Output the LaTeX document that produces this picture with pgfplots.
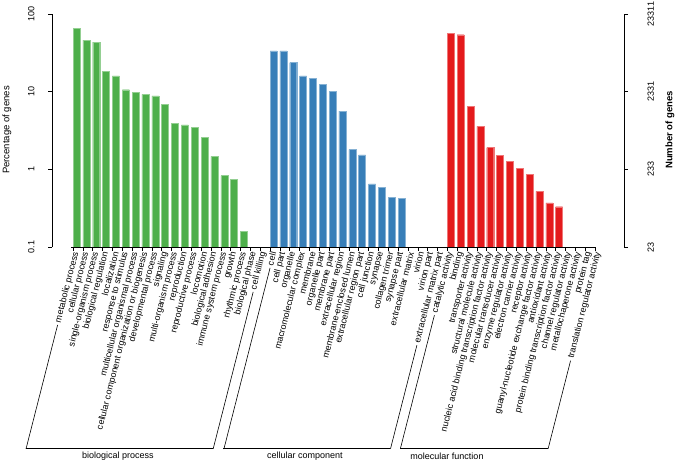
\documentclass[border=0pt]{standalone}
\usepackage{fontspec}
\setmainfont{Liberation Sans}
\usepackage{pgfplots}
\pgfplotsset{compat=1.18}
\definecolor{bpgreen}{HTML}{4DAF4A}
\definecolor{ccblue}{HTML}{377EB8}
\definecolor{mfred}{HTML}{E41A1C}
% label of the first/last category of a group, led by the bracket line
\newcommand{\brk}[1]{\makebox[203pt][r]{\leaders\hrule height 2.7pt depth -2.1pt\hfill\hspace{2.5pt}#1}}
\newcommand{\lab}{\fontsize{9}{10}\selectfont}
\begin{document}
\begin{tikzpicture}[x=1pt,y=1pt]
\useasboundingbox (0,0) rectangle (685,464);
\begin{axis}[
    at={(52pt,217pt)}, anchor=south west,
    scale only axis, width=572pt, height=233pt,
    ymode=log, log origin=infty,
    xmin=-2.49, xmax=55.58, ymin=0.1, ymax=100,
    axis y line*=left, axis x line*=bottom,
    x axis line style={draw=none},
    y axis line style={line width=0.8pt},
    tick align=outside,
    major tick length=4pt, minor tick length=4pt,
    yminorticks=false,
    ytick={0.1,1,10,100}, yticklabels={0.1,1,10,100},
    yticklabel style={rotate=90, anchor=south, font=\lab},
    yticklabel shift=10pt,
    y tick style={line width=0.8pt, black},
    xtick={0,...,53},
    minor xtick={-0.35,0.65,...,52.7},
    major x tick style={draw=none},
    minor x tick style={black, line width=0.6pt},
    xticklabel style={rotate=75.7, anchor=east, font=\lab, inner sep=1pt},
    xticklabels={
      \brk{metabolic process}, cellular process, single-organism process,
      biological regulation, localization, response to stimulus,
      multicellular organismal process,
      cellular component organization or biogenesis,
      developmental process, signaling, multi-organism process,
      reproduction, reproductive process, locomotion, biological adhesion,
      immune system process, growth, rhythmic process, biological phase,
      \brk{cell killing},
      \brk{cell}, cell part, organelle, macromolecular complex, membrane,
      organelle part, membrane part, extracellular region,
      membrane-enclosed lumen, extracellular region part, cell junction,
      synapse, collagen trimer, synapse part, extracellular matrix,
      virion, virion part, \brk{extracellular matrix part},
      \brk{catalytic activity}, binding, transporter activity,
      structural molecule activity,
      nucleic acid binding transcription factor activity,
      molecular transducer activity, enzyme regulator activity,
      electron carrier activity, receptor activity,
      guanyl-nucleotide exchange factor activity, antioxidant activity,
      protein binding transcription factor activity,
      channel regulator activity, metallochaperone activity,
      protein tag, \brk{translation regulator activity}},
    clip=false,
]
% biological process
\addplot[ybar, bar width=7pt, bar shift=0pt, fill=bpgreen, draw=bpgreen!60!white, line width=0.4pt] coordinates {
    (0,64.7) (1,46.2) (2,43.5) (3,18.4) (4,16.0) (5,10.6) (6,9.8)
    (7,9.2) (8,8.8) (9,6.8) (10,3.9) (11,3.73) (12,3.5) (13,2.6)
    (14,1.47) (15,0.83) (16,0.74) (17,0.16)
};
% cellular component
\addplot[ybar, bar width=7pt, bar shift=0pt, fill=ccblue, draw=ccblue!60!white, line width=0.4pt] coordinates {
    (20,33.6) (21,33.6) (22,23.7) (23,16.0) (24,14.9) (25,12.5)
    (26,10.2) (27,5.6) (28,1.8) (29,1.53) (30,0.65) (31,0.59)
    (32,0.44) (33,0.42)
};
% molecular function
\addplot[ybar, bar width=7pt, bar shift=0pt, fill=mfred, draw=mfred!60!white, line width=0.4pt] coordinates {
    (38,56.9) (39,54.1) (40,6.5) (41,3.57) (42,1.91) (43,1.52)
    (44,1.27) (45,1.02) (46,0.865) (47,0.52) (48,0.37) (49,0.33)
};
\draw[line width=0.8pt] (axis cs:-0.55,0.1) -- (axis cs:52.65,0.1);
\end{axis}
\begin{axis}[
    at={(52pt,217pt)}, anchor=south west,
    scale only axis, width=572pt, height=233pt,
    ymode=log, ymin=23.311, ymax=23311, xmin=0, xmax=1,
    axis y line*=right, axis x line=none,
    y axis line style={line width=0.8pt},
    tick align=outside, major tick length=4pt,
    yminorticks=false,
    ytick={23.311,233.11,2331.1,23311}, yticklabels={23,233,2331,23311},
    yticklabel style={rotate=90, anchor=north, font=\lab},
    yticklabel shift=16pt,
    y tick style={line width=0.8pt, black},
]
\end{axis}
\node[rotate=90, font=\fontsize{9.5}{11}\selectfont] at (7,334) {Percentage of genes};
\node[rotate=90, font=\bfseries\fontsize{9.5}{11}\selectfont] at (670,334) {Number of genes};
\draw[line width=0.8pt] (26,16) -- (213,16);
\draw[line width=0.8pt] (223,16) -- (390,16);
\draw[line width=0.8pt] (400,16) -- (548,16);
\node[font=\lab] at (118,8) {biological process};
\node[font=\lab] at (305,8) {cellular component};
\node[font=\lab] at (447,8) {molecular function};
\end{tikzpicture}
\end{document}
